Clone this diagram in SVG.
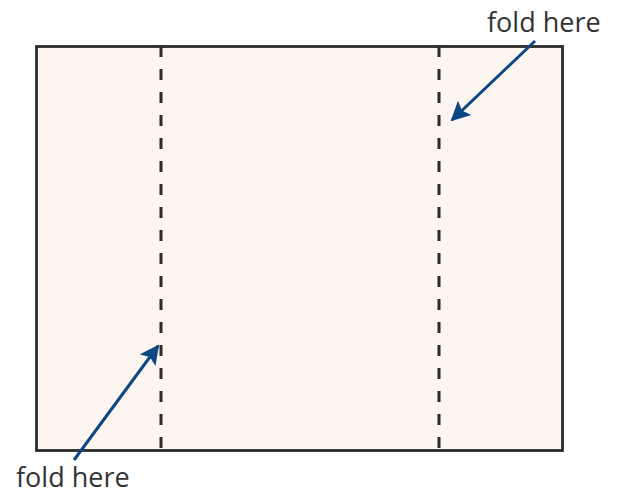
<svg xmlns="http://www.w3.org/2000/svg" width="619" height="495" viewBox="0 0 619 495">
<defs>
<style>
.sheet{fill:#fdf5f0;stroke:#2b2b2b;stroke-width:2.8}
.fold{stroke:#2b2b2b;stroke-width:3;stroke-dasharray:11 12;fill:none}
.arrow{stroke:#0b4784;stroke-width:3;fill:none;marker-end:url(#ah)}
.lbl{font-family:"Open Sans","Liberation Sans",sans-serif;font-size:27px;fill:#333333}
</style>
<marker id="ah" viewBox="0 0 10 10" refX="9" refY="5" markerWidth="7" markerHeight="6.5" markerUnits="strokeWidth" orient="auto">
<path d="M0,0 L10,5 L0,10 L2,5 z" fill="#0b4784"/>
</marker>
</defs>
<g id="sheet">
<rect class="sheet" x="36.5" y="46.5" width="526" height="404"/>
</g>
<g id="fold-lines">
<line class="fold" x1="161" y1="46" x2="161" y2="450"/>
<line class="fold" x1="439" y1="46" x2="439" y2="450"/>
</g>
<g id="connectors">
<line class="arrow" x1="535" y1="41" x2="452" y2="120"/>
<line class="arrow" x1="74" y1="460" x2="158" y2="346"/>
</g>
<g id="label-top">
<text class="lbl" x="487" y="32">fold here</text>
</g>
<g id="label-bottom">
<text class="lbl" x="16" y="487">fold here</text>
</g>
</svg>
